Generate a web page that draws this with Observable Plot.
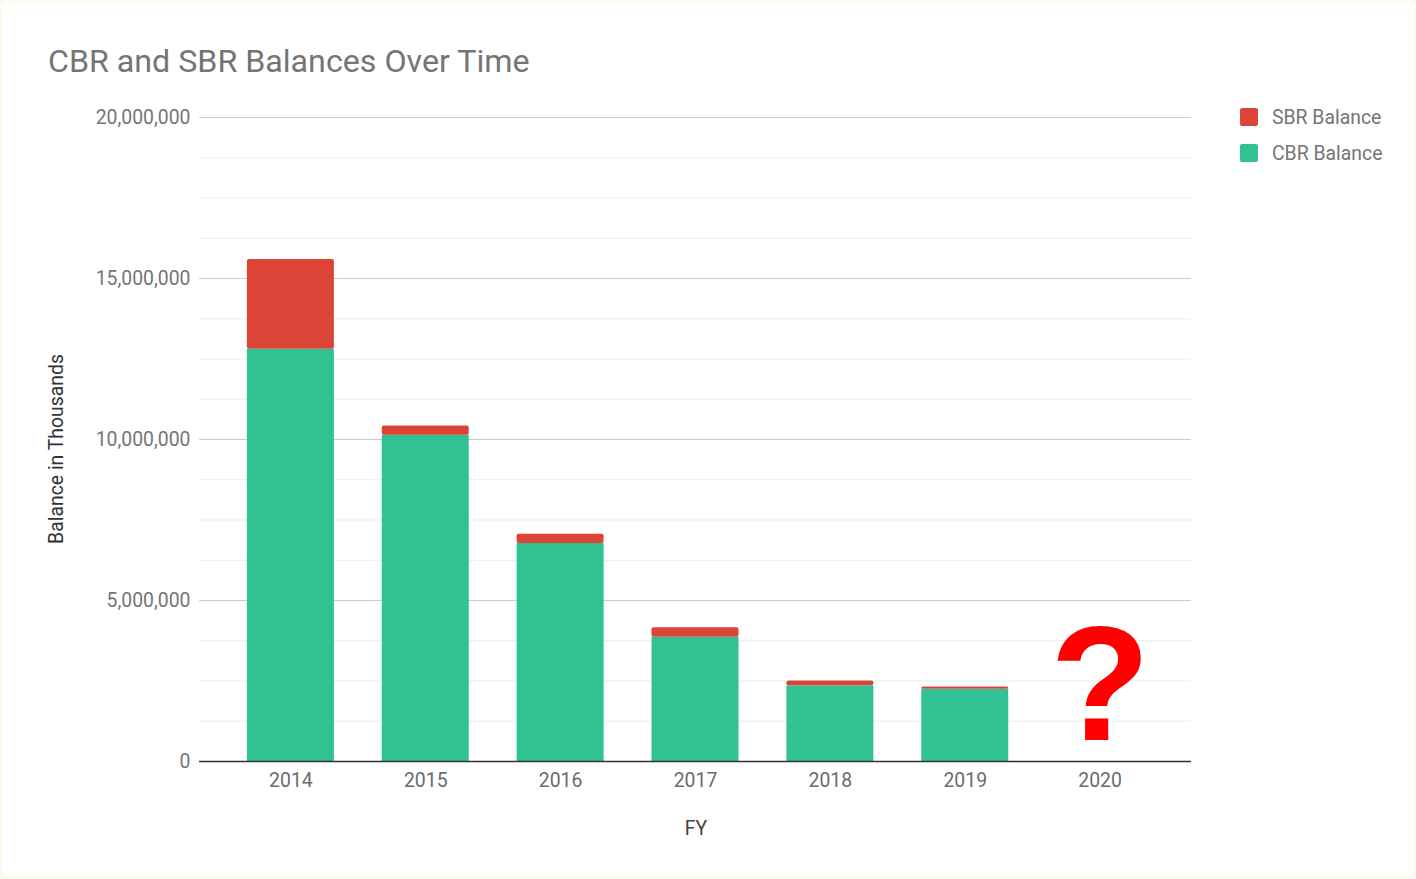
<!DOCTYPE html>
<html>
<head>
<meta charset="utf-8">
<script src="https://cdn.jsdelivr.net/npm/d3@7"></script>
<script src="https://cdn.jsdelivr.net/npm/@observablehq/plot@0.6"></script>
<style>
  html, body { margin: 0; padding: 0; }
  body { width: 1416px; height: 879px; background: #fffaf0; position: relative; overflow: hidden; font-family: Roboto, "Noto Sans", sans-serif; }
  #card { position: absolute; left: 3px; top: 3px; width: 1410px; height: 873px; background: #ffffff; }
  #title { position: absolute; left: 48px; top: 42px; font-size: 32.2px; color: #757575; font-family: Roboto, sans-serif; white-space: nowrap; }
  #chart { position: absolute; left: 0; top: 0; }
  .leg { position: absolute; left: 1240px; font-size: 19.4px; color: #757575; font-family: Roboto, sans-serif; white-space: nowrap; }
  .leg span.sw { position: absolute; left: 0; top: 0; width: 18px; height: 18px; border-radius: 2px; }
  .leg span.lb { position: absolute; left: 32px; top: -2px; }
</style>
</head>
<body>
<div id="card"></div>
<div id="chart"></div>
<div id="title">CBR and SBR Balances Over Time</div>
<div id="legend"></div>
<script>
const years = ["2014", "2015", "2016", "2017", "2018", "2019", "2020"];
const cbrBalance = [12800000, 10130000, 6770000, 3860000, 2350000, 2240000, null];
const sbrBalance = [2790000, 290000, 290000, 290000, 150000, 70000, null];
const seriesNames = ["SBR Balance", "CBR Balance"];
const seriesColors = ["#db4437", "#31c293"];
const majorTicks = [0, 5000000, 10000000, 15000000, 20000000];
const minorTicks = [1250000, 2500000, 3750000, 6250000, 7500000, 8750000, 11250000, 12500000, 13750000, 16250000, 17500000, 18750000];
const annotation = [{FY: "2020", value: 2350000, label: "?"}];

const rows = years.map((y, i) => ({
  FY: y,
  cbr: cbrBalance[i],
  sbr: sbrBalance[i],
  total: cbrBalance[i] == null ? null : cbrBalance[i] + sbrBalance[i]
})).filter(d => d.cbr != null);

const chart = Plot.plot({
  width: 1416,
  height: 879,
  marginTop: 117,
  marginBottom: 118,
  marginLeft: 199,
  marginRight: 225,
  style: { background: "transparent", fontFamily: "Roboto, sans-serif", fontSize: "19.4px", color: "#757575" },
  x: { domain: years, padding: 0.355, round: false, label: null },
  y: { domain: [0, 20000000], label: null },
  marks: [
    Plot.ruleY(minorTicks, { stroke: "#ebebeb", strokeWidth: 1 }),
    Plot.ruleY(majorTicks.filter(d => d > 0), { stroke: "#cccccc", strokeWidth: 1 }),
    Plot.barY(rows, { x: "FY", y1: 0, y2: "cbr", fill: seriesColors[1] }),
    Plot.barY(rows, { x: "FY", y1: "cbr", y2: "total", fill: seriesColors[0], rx: 2 }),
    Plot.ruleY([0], { stroke: "#333333", strokeWidth: 1.5 }),
    Plot.axisY({ ticks: majorTicks, tickFormat: d3.format(","), tickSize: 0, tickPadding: 9, fill: "#757575", fontSize: 19.4, label: null }),
    Plot.axisX({ tickSize: 0, tickPadding: 12, fill: "#6b6b6b", fontSize: 19.4, label: null }),
    Plot.text(annotation, {
      x: "FY", y: "value", text: "label", fill: "#ff0000", fontSize: 164, fontWeight: "bold",
      fontFamily: "'Liberation Sans', Arial, sans-serif", textAnchor: "middle", dy: 2,
      style: "filter: drop-shadow(2px 4px 3px rgba(0,0,0,0.35))"
    })
  ]
});
document.getElementById("chart").appendChild(chart);

// axis titles as svg text
const svg = d3.select(chart);
svg.append("text").attr("x", 696).attr("y", 835).attr("text-anchor", "middle")
  .attr("fill", "#444").attr("font-size", 19.4).attr("font-family", "Roboto, sans-serif").text("FY");
svg.append("text").attr("transform", "translate(63,449) rotate(-90)").attr("text-anchor", "middle")
  .attr("fill", "#333").attr("font-size", 19.4).attr("font-family", "Roboto, sans-serif").text("Balance in Thousands");

// legend
const legend = document.getElementById("legend");
seriesNames.forEach((name, i) => {
  const d = document.createElement("div");
  d.className = "leg";
  d.style.top = (108 + i * 36) + "px";
  d.innerHTML = `<span class="sw" style="background:${seriesColors[i]}"></span><span class="lb">${name}</span>`;
  legend.appendChild(d);
});
</script>
</body>
</html>
